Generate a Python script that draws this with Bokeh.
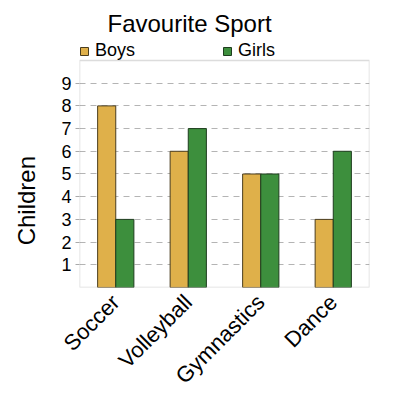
import math

from bokeh.embed import file_html
from bokeh.models import (BoxAnnotation, ColumnDataSource, FixedTicker, Legend,
                          LegendItem, Range1d)
from bokeh.plotting import figure
from bokeh.resources import INLINE
from bokeh.transform import dodge

sports = ["Soccer", "Volleyball", "Gymnastics", "Dance"]
boys = [8, 6, 5, 3]
girls = [3, 7, 5, 6]
y_ticks = [1, 2, 3, 4, 5, 6, 7, 8, 9]
y_max = 10

FONT = "Liberation Sans"

source = ColumnDataSource(data=dict(sport=sports, boys=boys, girls=girls))

# the frame runs a little above y_max so the legend row can live inside it;
# the visible box is drawn by a BoxAnnotation from 0 to y_max
p = figure(
    x_range=sports,
    y_range=Range1d(0, 10.88),
    width=400,
    height=400,
    min_border_left=79,
    min_border_right=31,
    min_border_top=40,
    min_border_bottom=100,
    output_backend="svg",
    toolbar_location=None)

rb = p.vbar(x=dodge('sport', -0.125, range=p.x_range), top='boys', width=0.25,
            source=source, fill_color='#dfb04a', line_color='#4a3d1e', line_width=1)
rg = p.vbar(x=dodge('sport', 0.125, range=p.x_range), top='girls', width=0.25,
            source=source, fill_color='#3d8f3d', line_color='#1e3d1e', line_width=1)

box = BoxAnnotation(bottom=0, top=y_max, fill_color=None,
                    line_color="#8c8c8c", line_width=1.5)
p.add_layout(box)
p.outline_line_color = None

p.title.text = "Favourite Sport"
p.title.align = "left"
p.title.offset = 28
p.title.standoff = 7
p.title.text_font = FONT
p.title.text_font_size = "24px"
p.title.text_font_style = "normal"
p.title.text_color = "black"

legend = Legend(
    items=[LegendItem(label="Boys", renderers=[rb]),
           LegendItem(label="Girls", renderers=[rg])],
    orientation="horizontal",
    location="top_left",
    spacing=87,
    padding=0,
    margin=0,
    border_line_color=None,
    background_fill_alpha=0,
    glyph_width=10,
    glyph_height=10,
    label_standoff=6,
    label_text_font=FONT,
    label_text_font_size="18px",
    label_text_color="black")
p.add_layout(legend)

p.xgrid.grid_line_color = None
p.ygrid.ticker = FixedTicker(ticks=y_ticks)
p.ygrid.grid_line_color = "#b4b4b4"
p.ygrid.grid_line_dash = "6 5"

# trailing no-break spaces push the centred label down to where it sits
p.yaxis.axis_label = "Children" + "\u00a0" * 11
p.yaxis.axis_label_text_font = FONT
p.yaxis.axis_label_text_font_size = "24px"
p.yaxis.axis_label_text_font_style = "normal"
p.yaxis.axis_label_text_color = "black"
p.yaxis.axis_label_standoff = 18
p.yaxis.ticker = FixedTicker(ticks=y_ticks)
p.yaxis.axis_line_color = None
p.yaxis.major_tick_in = 0
p.yaxis.major_tick_out = 4
p.yaxis.major_tick_line_color = "#aaaaaa"
p.yaxis.minor_tick_line_color = None
p.yaxis.major_label_text_font = FONT
p.yaxis.major_label_text_font_size = "18px"
p.yaxis.major_label_text_color = "black"
p.yaxis.major_label_standoff = 4

p.xaxis.axis_line_color = None
p.xaxis.major_tick_line_color = None
p.xaxis.minor_tick_line_color = None
p.xaxis.major_label_orientation = math.pi / 4
p.xaxis.major_label_text_font = FONT
p.xaxis.major_label_text_font_size = "22px"
p.xaxis.major_label_text_color = "black"

open("out.html", "w").write(file_html(p, INLINE))
